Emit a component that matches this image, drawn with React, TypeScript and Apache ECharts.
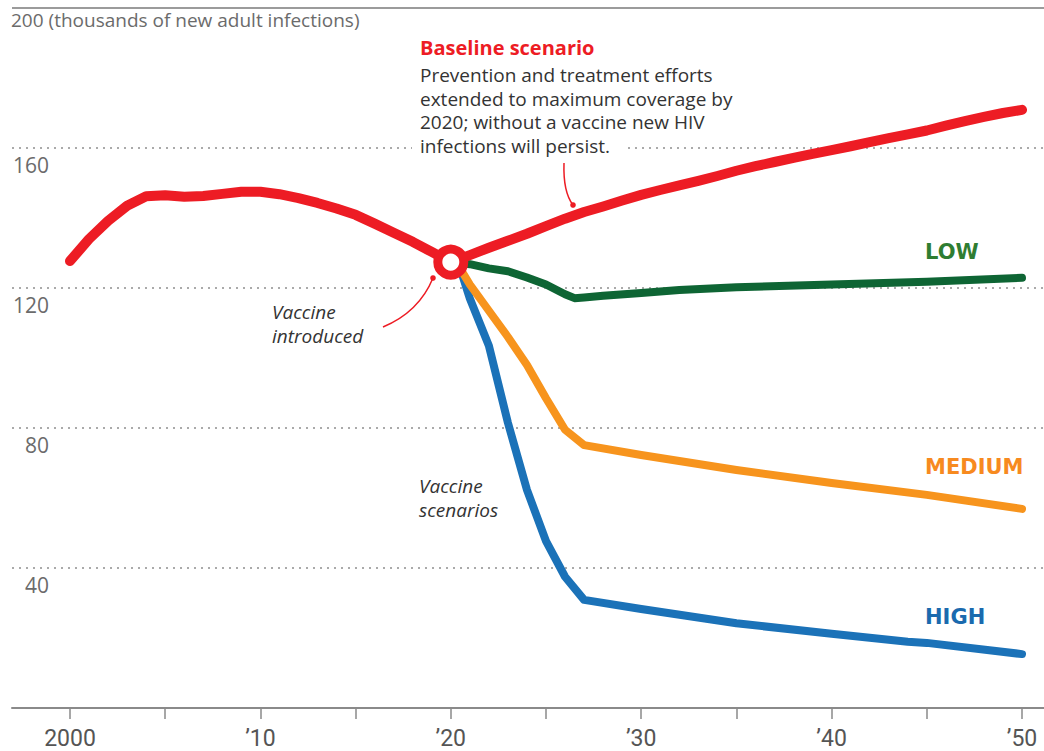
import React, { useEffect, useRef } from "react";
import * as echarts from "echarts";

// ---- data ----
const baselineYears = [
  2000, 2001, 2002, 2003, 2004, 2005, 2006, 2007, 2008, 2009,
  2010, 2011, 2012, 2013, 2014, 2015, 2016, 2017, 2018, 2019,
  2020, 2021, 2022, 2023, 2024, 2025, 2026, 2027, 2028, 2029,
  2030, 2031, 2032, 2033, 2034, 2035, 2036, 2037, 2038, 2039,
  2040, 2041, 2042, 2043, 2044, 2045, 2046, 2047, 2048, 2049, 2050,
];
const baselineValues = [
  127.7, 134.0, 139.2, 143.5, 146.2, 146.5, 146.1, 146.3, 146.9, 147.5,
  147.5, 146.8, 145.7, 144.3, 142.7, 140.9, 138.4, 135.8, 133.2, 130.3,
  127.4, 129.4, 131.5, 133.5, 135.5, 137.7, 139.8, 141.7, 143.3, 145.0,
  146.6, 148.0, 149.3, 150.6, 152.0, 153.5, 154.8, 156.0, 157.2, 158.3,
  159.4, 160.5, 161.7, 162.8, 163.9, 165.0, 166.4, 167.7, 168.9, 170.0, 170.9,
];

const lowYears = [2020, 2021, 2022, 2023, 2024, 2025, 2026, 2026.5, 2027, 2028, 2030, 2032, 2035, 2040, 2045, 2050];
const lowValues = [127.4, 126.8, 125.6, 124.8, 123.0, 121.0, 118.2, 117.1, 117.3, 117.8, 118.6, 119.4, 120.2, 121.0, 121.8, 122.9];

const mediumYears = [2020, 2020.5, 2021, 2022, 2023, 2024, 2025, 2026, 2027, 2030, 2035, 2040, 2045, 2050];
const mediumValues = [127.4, 125.5, 121.0, 113.5, 106.0, 98.0, 88.5, 79.5, 75.1, 72.3, 68.0, 64.3, 60.9, 56.9];

const highYears = [2020, 2020.5, 2021, 2022, 2023, 2024, 2025, 2026, 2027, 2030, 2035, 2040, 2044, 2045, 2050];
const highValues = [127.4, 125.5, 117.0, 103.5, 81.5, 62.3, 47.7, 37.5, 30.9, 28.3, 24.2, 21.2, 18.9, 18.6, 15.4];

const vaccineIntro = [2020, 127.4];

const xTickValues = [2000, 2005, 2010, 2015, 2020, 2025, 2030, 2035, 2040, 2045, 2050];
const xLabelValues = [2000, 2010, 2020, 2030, 2040, 2050];
const xLabelTexts = ["2000", "\u201910", "\u201920", "\u201930", "\u201940", "\u201950"];
const yTickLabels = [40, 80, 120, 160];
const yTopLabel = "200 (thousands of new adult infections)";

// ---- styles ----
const RED = "#ed1c24";
const GREEN = "#0e6534";
const GREEN_TEXT = "#2f7d32";
const ORANGE = "#f7941d";
const ORANGE_TEXT = "#f78a1f";
const BLUE = "#1b72b8";
const BLUE_TEXT = "#1a6aae";
const SANS = '"Open Sans", "Noto Sans", Roboto, sans-serif';
const BOLD = '"DejaVu Sans", "Open Sans", sans-serif';

const pairs = (xs: number[], ys: number[]) => xs.map((x, i) => [x, ys[i]]);

export default function App() {
  const ref = useRef<HTMLDivElement>(null);
  useEffect(() => {
    if (!ref.current) return;
    const chart = echarts.init(ref.current, null, { renderer: "svg" });
    const lineSeries = (name: string, data: number[][], color: string, width: number, z: number) => ({
      type: "line",
      name,
      data,
      showSymbol: false,
      symbol: "none",
      z,
      lineStyle: { color, width, cap: "round", join: "round" },
      emphasis: { disabled: true },
    });
    const highSeries: any = lineSeries("High", pairs(highYears, highValues), BLUE, 8, 3);
    highSeries.markLine = {
      silent: true,
      z: 1,
      symbol: ["none", "none"],
      label: { show: false },
      lineStyle: { type: [2, 5], color: "#8f8f8f", width: 1.6 },
      data: [
        ...yTickLabels.map((v) => ({ yAxis: v })),
        { yAxis: 200, lineStyle: { type: "solid", color: "#7a7a7a", width: 1.5 } },
      ],
    };
    const italicBlock = (text: string, x: number, y: number) => ({
      type: "text",
      x,
      y,
      z: 100,
      style: { text, fill: "#333333", font: `italic 19px ${SANS}`, lineHeight: 24 },
    });
    chart.setOption({
      animation: false,
      grid: { left: 12, right: 0, top: 8, bottom: 43, containLabel: false },
      xAxis: {
        type: "value",
        min: 1996.954,
        max: 2051.155,
        offset: 3,
        splitLine: { show: false },
        axisLine: { show: true, lineStyle: { color: "#8a8a8a", width: 2 } },
        axisTick: {
          show: true,
          length: 11,
          customValues: xTickValues,
          lineStyle: { color: "#8a8a8a", width: 1.5 },
        },
        axisLabel: {
          customValues: xLabelValues,
          margin: 16,
          color: "#555",
          fontSize: 23,
          fontFamily: 'Roboto, "Open Sans", sans-serif',
          formatter: (v: number) => {
            const i = xLabelValues.indexOf(v);
            return i >= 0 ? xLabelTexts[i] : "";
          },
        },
      },
      yAxis: {
        type: "value",
        min: 0,
        max: 200,
        interval: 40,
        splitLine: { show: false },
        axisLine: { show: false },
        axisTick: { show: false },
        axisLabel: {
          inside: true,
          margin: 37,
          align: "right",
          verticalAlign: "top",
          padding: [6, 0, 0, 0],
          lineHeight: 22,
          color: "#6b6b6b",
          fontSize: 21,
          fontFamily: SANS,
          formatter: (v: number) => (yTickLabels.indexOf(v) >= 0 ? String(v) : ""),
        },
      },
      series: [
        highSeries,
        lineSeries("Medium", pairs(mediumYears, mediumValues), ORANGE, 8, 4),
        lineSeries("Low", pairs(lowYears, lowValues), GREEN, 8, 5),
        lineSeries("Baseline", pairs(baselineYears, baselineValues), RED, 10, 6),
        {
          type: "scatter",
          name: "Vaccine introduced",
          data: [vaccineIntro],
          symbol: "circle",
          symbolSize: 26,
          z: 8,
          itemStyle: { color: "#ffffff", borderColor: RED, borderWidth: 9, opacity: 1 },
          emphasis: { disabled: true },
        },
      ],
      graphic: [
        {
          type: "text",
          left: 11,
          top: 10,
          z: 100,
          style: { text: yTopLabel, fill: "#6b6b6b", font: `19px ${SANS}` },
        },
        { type: "rect", z: 50, shape: { x: 412, y: 139, width: 216, height: 18 }, style: { fill: "#ffffff" } },
        { type: "rect", z: 50, shape: { x: 414, y: 284, width: 26, height: 8 }, style: { fill: "#ffffff" } },
        {
          type: "text",
          x: 420,
          y: 37,
          z: 100,
          style: { text: "Baseline scenario", fill: RED, font: `bold 20px ${SANS}` },
        },
        {
          type: "text",
          x: 420,
          y: 63,
          z: 100,
          style: {
            text: "Prevention and treatment efforts\nextended to maximum coverage by\n2020; without a vaccine new HIV\ninfections will persist.",
            fill: "#333333",
            font: `19px ${SANS}`,
            lineHeight: 23.7,
          },
        },
        {
          type: "bezierCurve",
          z: 60,
          shape: { x1: 564, y1: 163, x2: 573, y2: 205, cpx1: 563, cpy1: 192 },
          style: { stroke: RED, lineWidth: 1.5, fill: null },
        },
        { type: "circle", z: 60, shape: { cx: 573, cy: 205, r: 2.8 }, style: { fill: RED } },
        italicBlock("Vaccine\nintroduced", 272, 300),
        {
          type: "bezierCurve",
          z: 60,
          shape: { x1: 383, y1: 327, x2: 433, y2: 278, cpx1: 419, cpy1: 312 },
          style: { stroke: RED, lineWidth: 1.5, fill: null },
        },
        { type: "circle", z: 60, shape: { cx: 433, cy: 278, r: 2.8 }, style: { fill: RED } },
        italicBlock("Vaccine\nscenarios", 419, 474),
        {
          type: "text",
          x: 925,
          y: 241,
          z: 100,
          style: { text: "LOW", fill: GREEN_TEXT, font: `bold 21px ${BOLD}` },
        },
        {
          type: "text",
          x: 925,
          y: 456,
          z: 100,
          style: { text: "MEDIUM", fill: ORANGE_TEXT, font: `bold 21px ${BOLD}` },
        },
        {
          type: "text",
          x: 925,
          y: 606,
          z: 100,
          style: { text: "HIGH", fill: BLUE_TEXT, font: `bold 21px ${BOLD}` },
        },
      ],
    });
    return () => chart.dispose();
  }, []);
  return (
    <div
      ref={ref}
      style={{ position: "fixed", left: 0, top: 0, width: 1044, height: 751, background: "#ffffff" }}
    />
  );
}
